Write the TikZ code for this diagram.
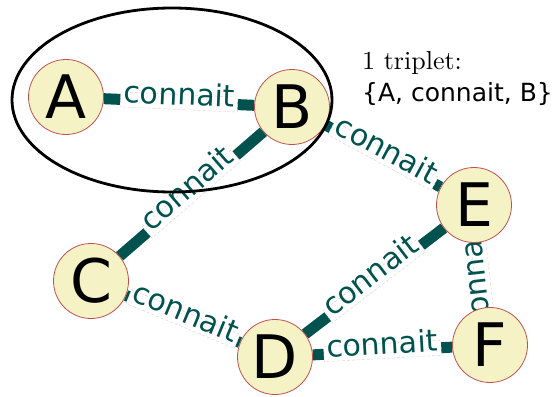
\documentclass[tikz,border=0pt]{standalone}
\usepackage{fontspec}
\setsansfont{DejaVu Sans}
\newfontfamily\serifdix{lmroman10-regular.otf}
\usetikzlibrary{backgrounds}
\definecolor{lien}{HTML}{00524E}
\definecolor{sommet}{HTML}{F5F3C5}
\definecolor{bord}{HTML}{C0504D}
\tikzset{
	personne/.style={circle, fill=sommet, draw=bord, line width=0.8pt, minimum size=75pt, inner sep=0pt, font=\sffamily\fontsize{60}{60}\selectfont},
	relation/.style={draw=lien, line width=11pt},
	etiquette/.style={midway, sloped, fill=white, draw=gray!35, densely dashed, line width=0.4pt, text=lien, inner sep=3pt, text height=0.75em, text depth=0.15em, font=\sffamily\fontsize{30}{30}\selectfont},
	legende/.style={anchor=base west, inner sep=0pt, font=\serifdix\fontsize{26}{26}\selectfont}
}
\begin{document}
\begin{tikzpicture}[x=1pt, y=-1pt, line join=round, line cap=round]
	\useasboundingbox (0,0) rectangle (559,396);
	\node[personne] (A) at (66,97) {A};
	\node[personne] (B) at (292,107) {B};
	\node[personne] (C) at (91,281) {C};
	\node[personne] (D) at (275,357) {D};
	\node[personne] (E) at (474,205) {E};
	\node[personne] (F) at (490,345) {F};
	\begin{scope}[on background layer]
		\draw[relation] (A) -- node[etiquette]{connait} (B);
		\draw[relation] (C) -- node[etiquette]{connait} (B);
		\draw[relation] (B) -- node[etiquette]{connait} (E);
		\draw[relation] (C) -- node[etiquette]{connait} (D);
		\draw[relation] (D) -- node[etiquette]{connait} (E);
		\draw[relation] (D) -- node[etiquette]{connait} (F);
		\draw[relation] (F) -- node[etiquette, allow upside down]{connait} (E);
	\end{scope}
	\draw[line width=2.8pt] (172,100) ellipse (160 and 92);
	\node[legende] (titre) at (362,70) {1 triplet:};
	\node[legende, font=\sffamily\fontsize{25}{25}\selectfont] (triplet) at (362,101) {\{A, connait, B\}};
\end{tikzpicture}
\end{document}
